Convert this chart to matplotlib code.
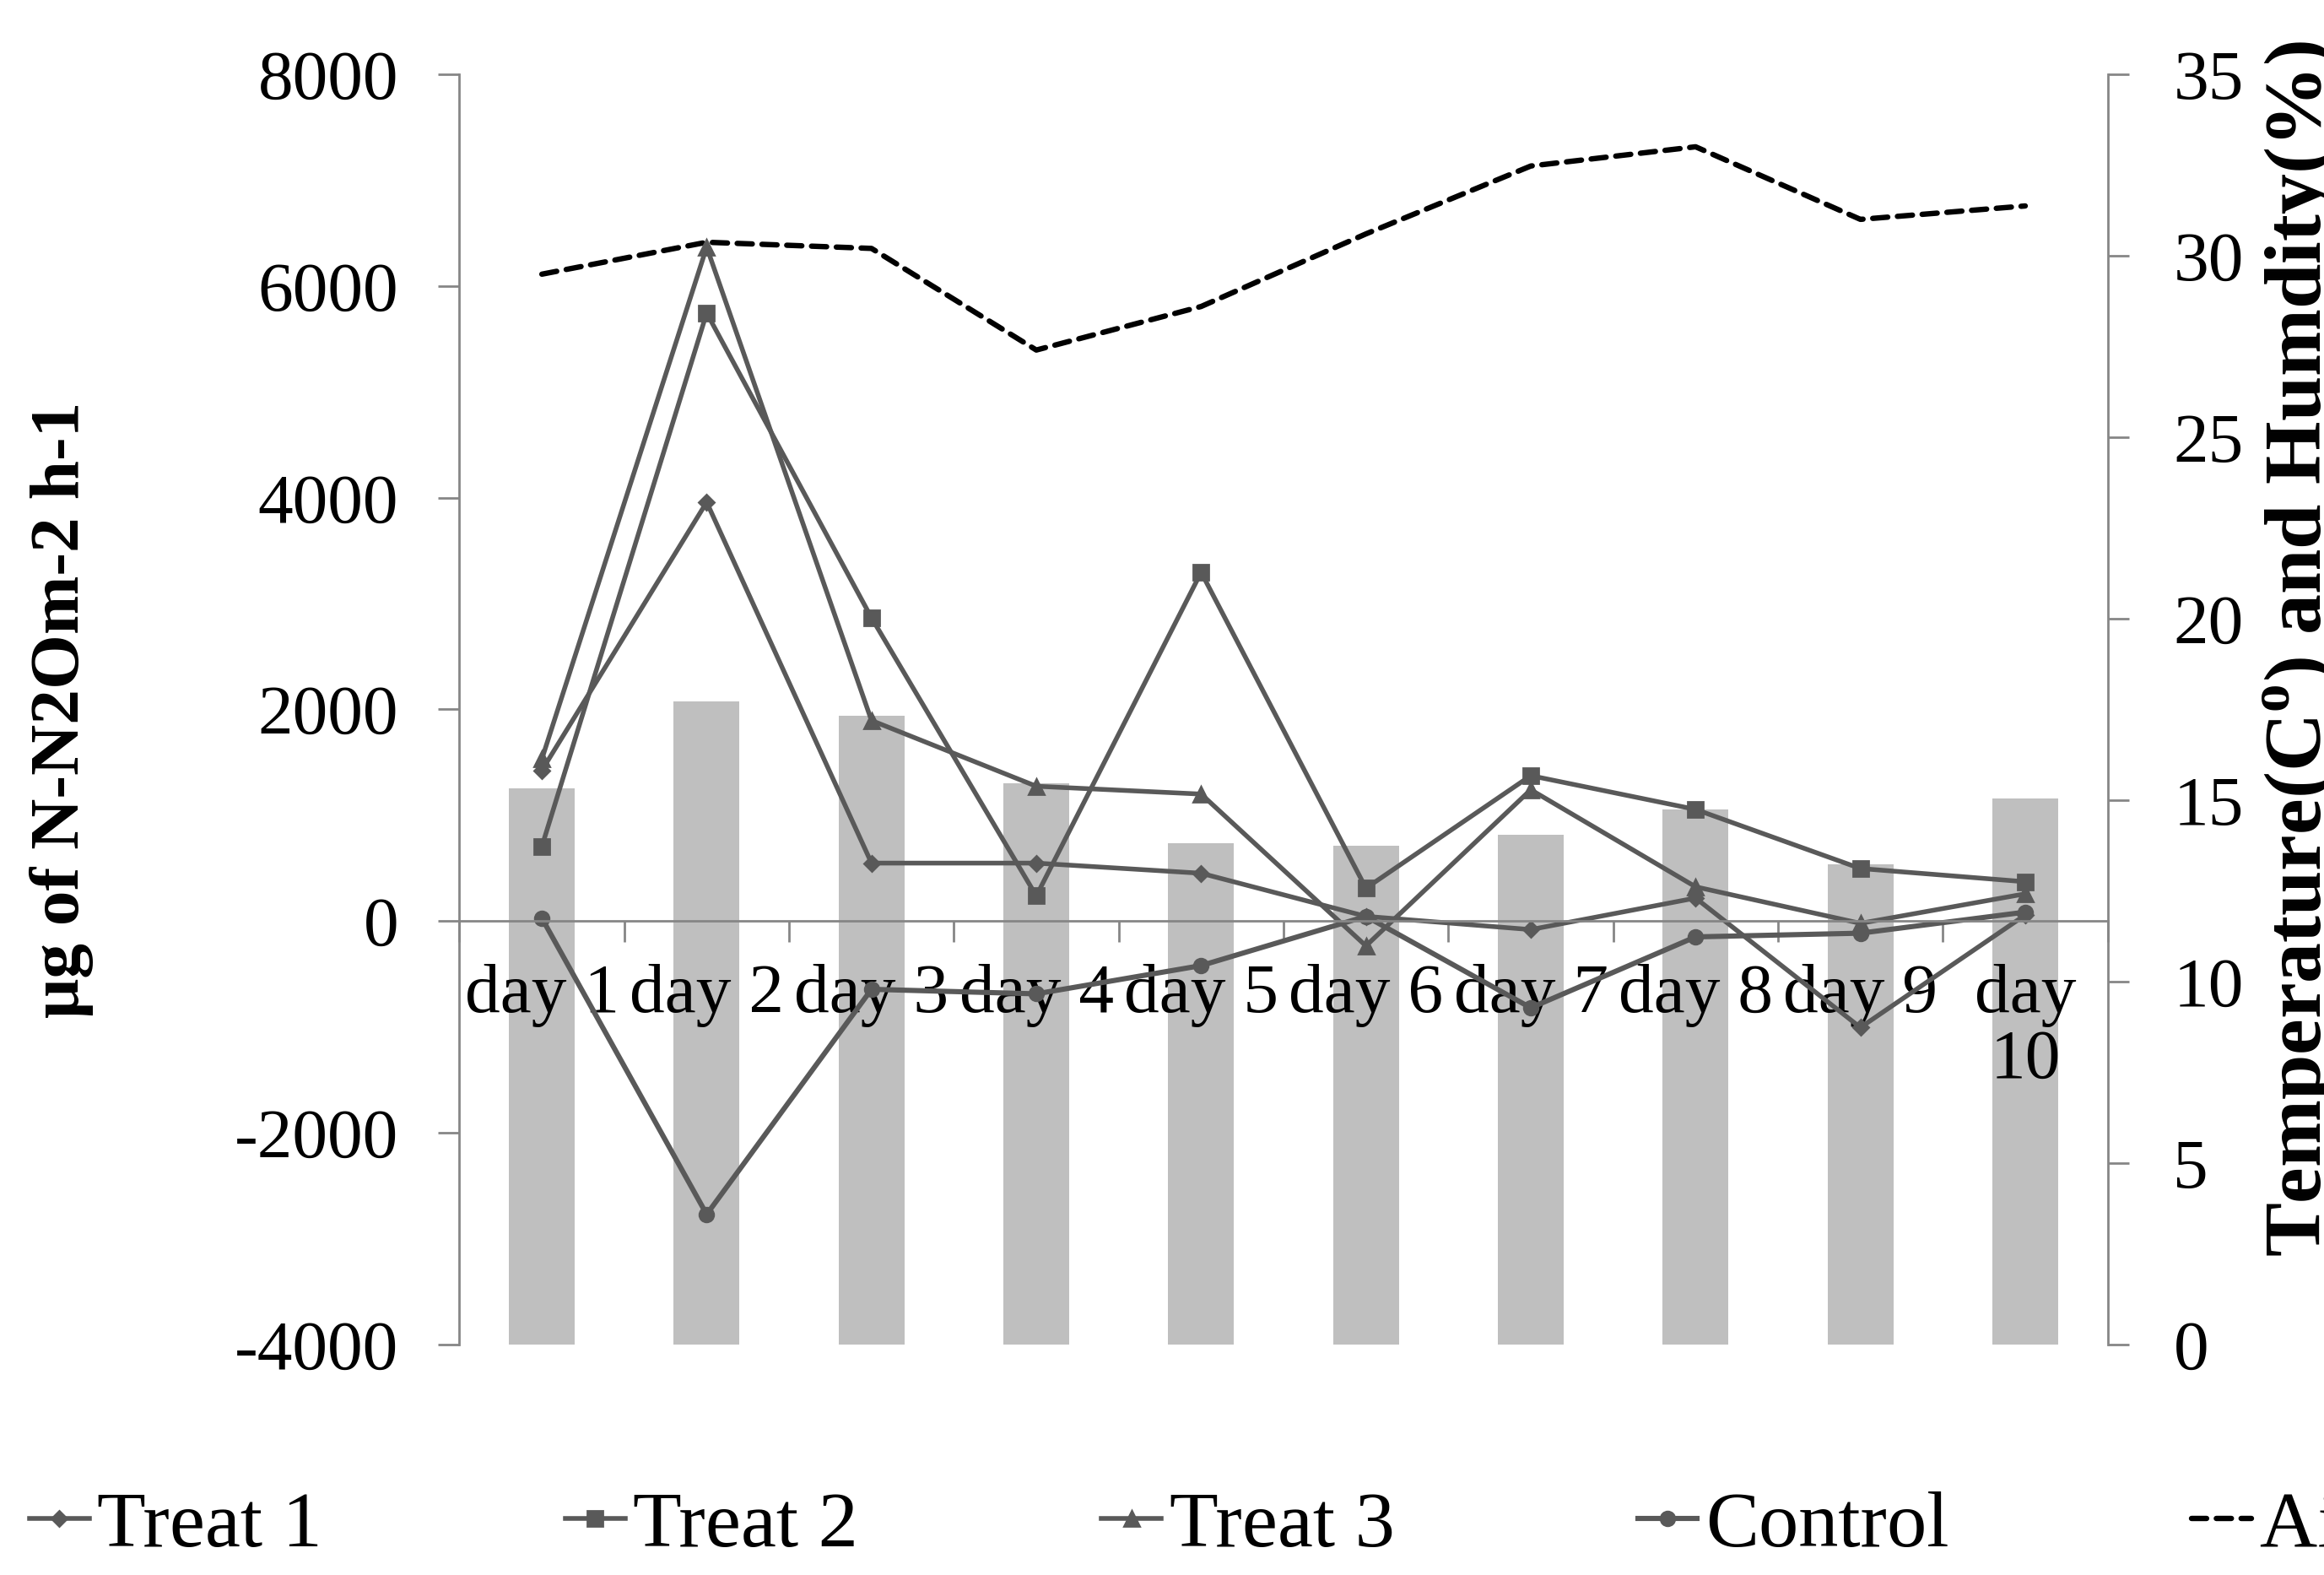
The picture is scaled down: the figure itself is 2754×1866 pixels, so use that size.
import matplotlib
matplotlib.use("Agg")
import matplotlib.pyplot as plt
import numpy as np

plt.rcParams['font.family'] = 'Liberation Serif'
plt.rcParams['mathtext.fontset'] = 'custom'
plt.rcParams['mathtext.rm'] = 'Liberation Serif'
plt.rcParams['mathtext.bf'] = 'Liberation Serif:bold'
plt.rcParams['axes.unicode_minus'] = False

# data
days = ["day 1", "day 2", "day 3", "day 4", "day 5", "day 6", "day 7", "day 8", "day 9", "day\n10"]
treat1 = [1424, 3957, 548, 548, 452, 45, -80, 218, -1005, 58]
treat2 = [705, 5744, 2865, 238, 3295, 311, 1374, 1055, 497, 372]
treat3 = [1531, 6367, 1895, 1274, 1200, -234, 1241, 324, -21, 258]
control = [28, -2770, -644, -687, -420, 45, -819, -149, -114, 85]
air_hum = [29.49, 30.37, 30.2, 27.4, 28.6, 30.6, 32.47, 33.0, 31.0, 31.37]
air_temp = [15.32, 17.72, 17.33, 15.46, 13.82, 13.75, 14.05, 14.74, 13.23, 15.05]

left_ticks = [-4000, -2000, 0, 2000, 4000, 6000, 8000]
right_ticks = [0, 5, 10, 15, 20, 25, 30, 35]

x = np.arange(1, len(days) + 1)
lc = '#595959'
axc = '#868686'
fs = 30

fig = plt.figure(figsize=(13.77, 9.33), dpi=200)
ax = fig.add_axes([0.1977, 0.1463, 0.7092, 0.8066])
ax2 = ax.twinx()
ax.set_zorder(ax2.get_zorder() + 1)
ax.patch.set_visible(False)

# right axis: bars + dashed line
bars = ax2.bar(x, air_temp, width=0.4, color='#bfbfbf', label='Air temperature')
hum, = ax2.plot(x, air_hum, color='black', lw=2.3, ls=(0, (2.8, 1.8)),
                dash_capstyle='round', label='Air humidity')
ax2.set_ylim(0, 35)
ax2.set_yticks(right_ticks)

# left axis lines
l1, = ax.plot(x, treat1, color=lc, lw=2.0, marker='D', ms=4.5, label='Treat 1')
l2, = ax.plot(x, treat2, color=lc, lw=2.0, marker='s', ms=6.5, label='Treat 2')
l3, = ax.plot(x, treat3, color=lc, lw=2.0, marker='^', ms=6.5, label='Treat 3')
l4, = ax.plot(x, control, color=lc, lw=2.2, marker='o', ms=6, label='Control')
ax.set_ylim(-4000, 8000)
ax.set_yticks(left_ticks)
ax.set_xlim(0.5, 10.5)

# category axis at zero
ax.spines['bottom'].set_position(('data', 0))
ax.spines['top'].set_visible(False)
ax2.spines['top'].set_visible(False)
ax2.spines['bottom'].set_visible(False)
for a in (ax, ax2):
    for s in ('left', 'right', 'bottom'):
        a.spines[s].set_color(axc)
        a.spines[s].set_linewidth(1.0)
ax.spines['right'].set_visible(False)
ax2.spines['left'].set_visible(False)

ax.set_xticks(x)
ax.set_xticklabels(days, fontsize=fs, linespacing=1.05)
ax.set_xticks(np.arange(0.5, 11, 1), minor=True)
ax.tick_params(axis='x', which='major', length=0, pad=18)
ax.tick_params(axis='x', which='minor', length=9, width=1.0, color=axc, direction='out')
ax.tick_params(axis='y', length=9, width=1.0, color=axc, labelsize=fs, pad=17)
ax2.tick_params(axis='y', length=9, width=1.0, color=axc, labelsize=fs, pad=19)

ax.set_ylabel('μg of N-N2Om-2 h-1', fontsize=30, fontweight='bold', labelpad=60)
fig.text(0.99, 0.588, r'Temperature(C$^{\mathbf{o}}$) and Humdity(%)', rotation=90,
         ha='center', va='center', fontsize=34.5, fontweight='bold')

fig.legend(handles=[l1, l2, l3, l4, hum, bars], loc='center left',
           bbox_to_anchor=(0.0127, 0.0305), ncol=6, frameon=False, fontsize=34,
           borderpad=0, borderaxespad=0, handlelength=0.75, handletextpad=0.1,
           columnspacing=3.05)

fig.savefig('out.png', dpi=200)
